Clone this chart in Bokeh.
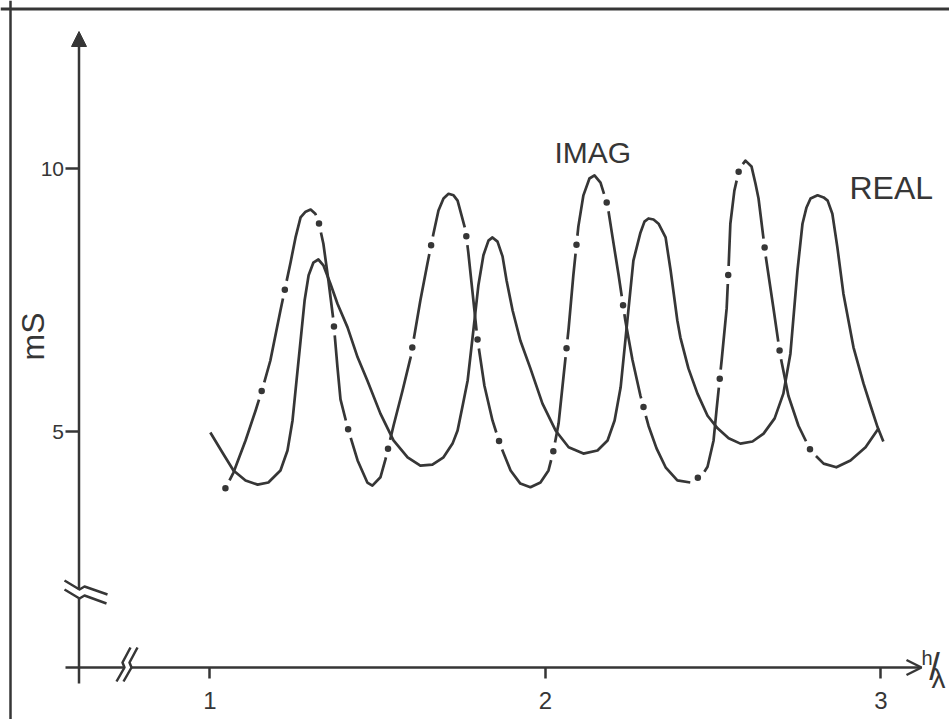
import math
from bokeh.plotting import figure
from bokeh.models import LinearAxis, FixedTicker, Arrow, NormalHead, OpenHead, Label, Span
from bokeh.embed import file_html
from bokeh.resources import INLINE

# ---------------- data ----------------
real_x = [1.001, 1.037, 1.070, 1.106, 1.142, 1.174, 1.210, 1.231, 1.246, 1.258,
          1.270, 1.282, 1.294, 1.308, 1.323, 1.338, 1.359, 1.380, 1.410, 1.440,
          1.469, 1.508, 1.547, 1.589, 1.627, 1.663, 1.696, 1.723, 1.738, 1.753,
          1.768, 1.785, 1.800, 1.815, 1.830, 1.842, 1.857, 1.872, 1.884, 1.902,
          1.925, 1.955, 1.991, 2.030, 2.069, 2.113, 2.155, 2.185, 2.206, 2.224,
          2.244, 2.262, 2.283, 2.295, 2.307, 2.322, 2.337, 2.358, 2.373, 2.393,
          2.402, 2.426, 2.453, 2.483, 2.513, 2.546, 2.581, 2.617, 2.650, 2.683,
          2.709, 2.730, 2.751, 2.766, 2.778, 2.790, 2.811, 2.829, 2.841, 2.855,
          2.870, 2.888, 2.918, 2.948, 2.969, 2.990, 3.007]
real_y = [4.98, 4.60, 4.26, 4.07, 3.99, 4.03, 4.26, 4.64, 5.21, 5.97,
          6.73, 7.49, 7.97, 8.21, 8.27, 8.16, 7.81, 7.43, 6.98, 6.41,
          5.97, 5.34, 4.83, 4.51, 4.35, 4.37, 4.51, 4.77, 5.02, 5.49,
          5.97, 6.92, 7.78, 8.35, 8.63, 8.69, 8.61, 8.33, 7.87, 7.30,
          6.73, 6.20, 5.53, 5.02, 4.70, 4.58, 4.64, 4.83, 5.21, 5.84,
          7.11, 8.25, 8.78, 8.99, 9.05, 9.03, 8.95, 8.69, 8.06, 7.11,
          6.79, 6.20, 5.72, 5.30, 5.06, 4.87, 4.77, 4.81, 4.96, 5.25,
          5.72, 6.48, 8.06, 8.95, 9.26, 9.43, 9.49, 9.45, 9.39, 9.14,
          8.50, 7.62, 6.60, 5.91, 5.49, 5.08, 4.81]

imag_x = [1.046, 1.070, 1.106, 1.136, 1.159, 1.180, 1.210, 1.240, 1.255, 1.270,
          1.285, 1.300, 1.314, 1.323, 1.338, 1.353, 1.368, 1.380, 1.389, 1.410,
          1.440, 1.469, 1.484, 1.508, 1.523, 1.547, 1.574, 1.598, 1.627, 1.648,
          1.666, 1.681, 1.696, 1.711, 1.726, 1.738, 1.762, 1.770, 1.782, 1.797,
          1.818, 1.842, 1.866, 1.896, 1.925, 1.955, 1.985, 2.009, 2.024, 2.039,
          2.054, 2.069, 2.083, 2.098, 2.113, 2.131, 2.146, 2.164, 2.185, 2.200,
          2.218, 2.238, 2.259, 2.283, 2.307, 2.331, 2.358, 2.393, 2.432, 2.468,
          2.483, 2.501, 2.510, 2.525, 2.540, 2.546, 2.551, 2.563, 2.578, 2.596,
          2.614, 2.626, 2.635, 2.656, 2.680, 2.700, 2.724, 2.754, 2.790, 2.829,
          2.867, 2.909, 2.954, 2.993]
imag_y = [3.92, 4.22, 4.83, 5.40, 5.87, 6.35, 7.30, 8.21, 8.69, 9.07,
          9.18, 9.22, 9.14, 9.01, 8.57, 7.87, 7.11, 6.22, 5.61, 5.08,
          4.45, 4.03, 3.97, 4.13, 4.47, 5.11, 5.78, 6.41, 7.49, 8.19,
          8.76, 9.20, 9.43, 9.52, 9.49, 9.39, 8.82, 8.40, 7.68, 6.77,
          5.87, 5.21, 4.73, 4.26, 4.01, 3.94, 4.03, 4.26, 4.64, 5.15,
          6.06, 6.96, 7.97, 8.90, 9.49, 9.81, 9.87, 9.73, 9.30, 8.69,
          7.97, 7.11, 6.37, 5.68, 5.11, 4.68, 4.32, 4.07, 4.03, 4.18,
          4.33, 4.83, 5.42, 6.35, 7.34, 8.16, 8.95, 9.58, 10.00, 10.15,
          10.04, 9.71, 9.43, 8.35, 7.32, 6.44, 5.68, 5.11, 4.64, 4.39,
          4.32, 4.45, 4.70, 5.06]

x_ticks = [1, 2, 3]
x_tick_labels = ["1", "2", "3"]
y_ticks = [5, 10]
y_tick_labels = ["5", "10"]
y_title = "mS"
x_title_parts = ["h", "/", "λ"]
series_names = ["IMAG", "REAL"]

# ---------------- layout ----------------
W, H = 949, 719
X0, X1 = 0.3756, 3.2042
Y0, Y1 = -0.475, 13.194
INK = "#363636"
FONT = "Liberation Sans"


def X(px):
    return X0 + px * (X1 - X0) / W


def Y(py):
    return Y1 - py * (Y1 - Y0) / H


AX_X = X(78.5)   # position of the vertical axis
AX_Y = Y(667)    # position of the horizontal axis

p = figure(width=W, height=H, x_range=(X0, X1), y_range=(Y0, Y1),
           output_backend="svg", toolbar_location=None,
           x_axis_location=None, y_axis_location=None,
           min_border=0, border_fill_color="white",
           background_fill_color="white", outline_line_color=None)
p.xgrid.visible = False
p.ygrid.visible = False

# frame of the original sheet (left and top edges)
p.add_layout(Span(location=X(10), dimension="height", line_color=INK, line_width=2.5))
p.add_layout(Span(location=Y(8.5), dimension="width", line_color=INK, line_width=3))

# ---- axes (ticks + labels) ----
xaxis = LinearAxis(fixed_location=AX_Y,
                   ticker=FixedTicker(ticks=x_ticks, minor_ticks=[]),
                   major_label_overrides={t: l for t, l in zip(x_ticks, x_tick_labels)},
                   axis_line_color=None,
                   major_tick_out=11, major_tick_in=0,
                   major_tick_line_color=INK, major_tick_line_width=2.5,
                   minor_tick_out=0, minor_tick_in=0,
                   major_label_standoff=13,
                   major_label_text_font=FONT, major_label_text_font_size="24px",
                   major_label_text_color=INK)
p.add_layout(xaxis, "below")

yaxis = LinearAxis(fixed_location=AX_X,
                   ticker=FixedTicker(ticks=y_ticks, minor_ticks=[]),
                   major_label_overrides={t: l for t, l in zip(y_ticks, y_tick_labels)},
                   axis_line_color=None,
                   major_tick_out=14, major_tick_in=0,
                   major_tick_line_color=INK, major_tick_line_width=2.5,
                   minor_tick_out=0, minor_tick_in=0,
                   major_label_standoff=1,
                   major_label_text_font=FONT, major_label_text_font_size="21px",
                   major_label_text_color=INK)
p.add_layout(yaxis, "left")

# ---- axis lines with breaks and arrows ----
p.line([AX_X, AX_X], [Y(598), Y(683)], line_color=INK, line_width=2.5)
p.add_layout(Arrow(end=NormalHead(size=15, fill_color=INK, line_color=INK, line_width=1),
                   x_start=AX_X, y_start=Y(589), x_end=AX_X, y_end=Y(31),
                   line_color=INK, line_width=2.5))
p.line([X(65), X(124)], [AX_Y, AX_Y], line_color=INK, line_width=2.5)
p.add_layout(Arrow(end=OpenHead(size=15, line_color=INK, line_width=2.5),
                   x_start=X(131), y_start=AX_Y, x_end=X(921), y_end=AX_Y,
                   line_color=INK, line_width=2.5))

# break symbols
p.multi_line(
    xs=[[X(64), X(79), X(84), X(107)], [X(64), X(79), X(84), X(106)],
        [X(116), X(124), X(122), X(130)], [X(123), X(131), X(129), X(137)]],
    ys=[[Y(580), Y(589), Y(586), Y(594)], [Y(589), Y(598), Y(595), Y(603)],
        [Y(681), Y(667), Y(662), Y(647)], [Y(681), Y(667), Y(662), Y(647)]],
    line_color=INK, line_width=2.5, line_join="round")

# ---- curves ----
p.line(real_x, real_y, line_color=INK, line_width=2.7, line_join="round")
p.line(imag_x, imag_y, line_color=INK, line_width=2.7, line_join="round",
       line_dash="86 18", line_dash_offset=95)
p.line(imag_x, imag_y, line_color=INK, line_width=6.5, line_cap="round",
       line_dash="0 104")

# ---- texts ----
p.add_layout(Label(x=X(554), y=Y(152), text=series_names[0], text_font=FONT,
                   text_font_size="30px", text_color=INK,
                   text_align="left", text_baseline="alphabetic"))
p.add_layout(Label(x=X(849), y=Y(187), text=series_names[1], text_font=FONT,
                   text_font_size="32px", text_color=INK,
                   text_align="left", text_baseline="alphabetic"))
p.add_layout(Label(x=X(32), y=Y(336), text=y_title, angle=math.pi / 2,
                   text_font=FONT, text_font_size="32px", text_color=INK,
                   text_align="center", text_baseline="middle"))
p.add_layout(Label(x=X(921), y=Y(657), text=x_title_parts[0], text_font=FONT,
                   text_font_size="20px", text_color=INK,
                   text_align="left", text_baseline="alphabetic"))
p.add_layout(Label(x=X(934), y=Y(666), text=x_title_parts[1], text_font=FONT,
                   text_font_size="38px", text_color=INK,
                   text_align="center", text_baseline="middle"))
p.add_layout(Label(x=X(931), y=Y(678), text=x_title_parts[2], text_font=FONT,
                   text_font_size="28px", text_color=INK,
                   text_align="left", text_baseline="alphabetic"))

open("out.html", "w").write(file_html(p, INLINE, "chart"))
